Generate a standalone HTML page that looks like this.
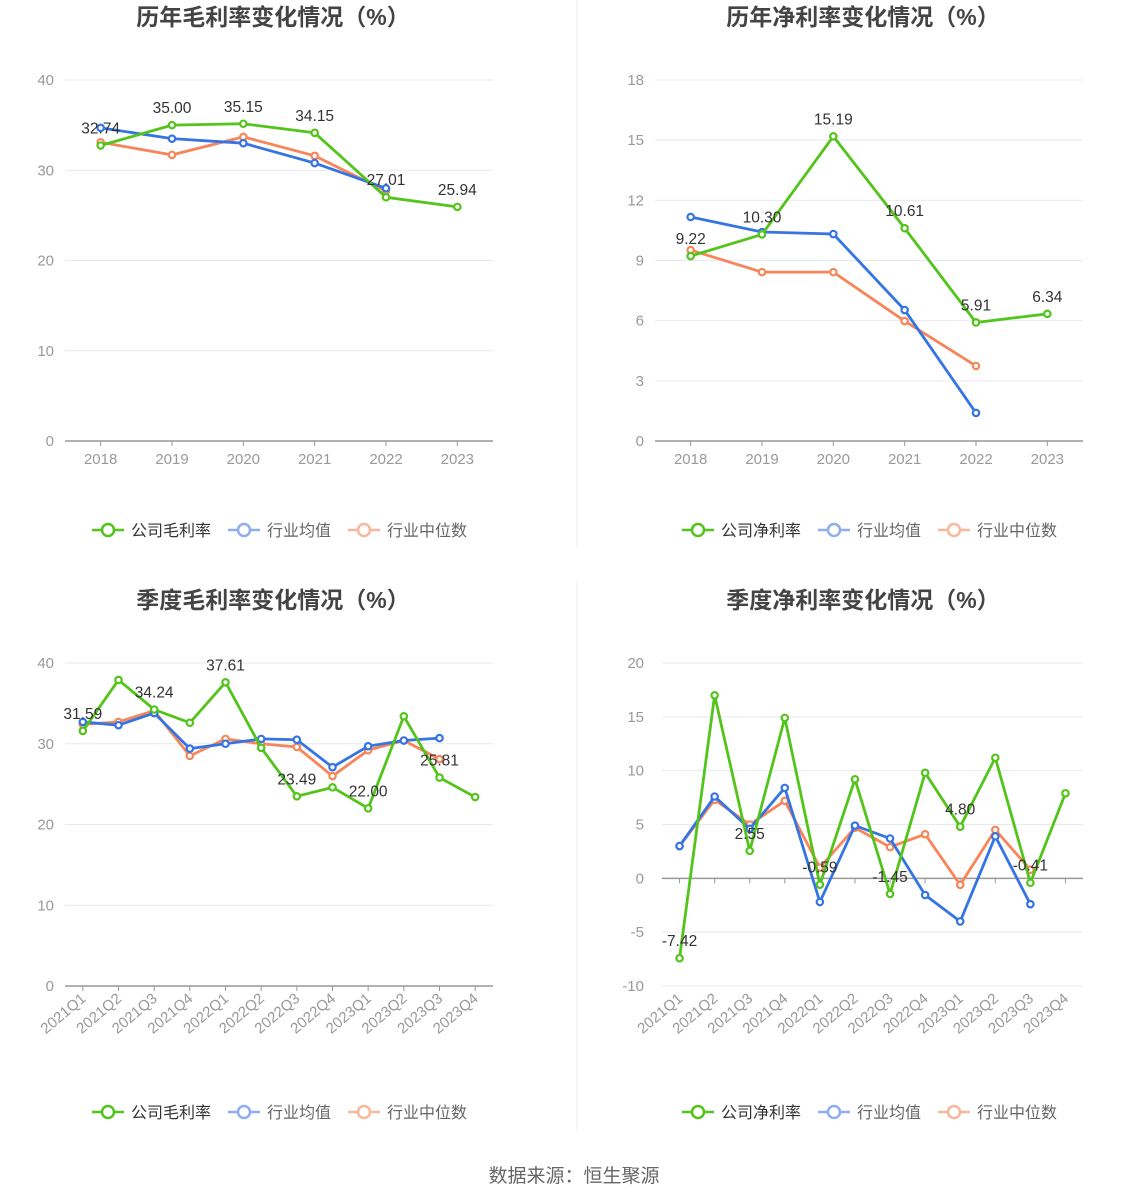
<!DOCTYPE html>
<html><head><meta charset="utf-8">
<style>
body{margin:0;background:#fff;font-family:"Liberation Sans","Noto Sans CJK SC",sans-serif;}
#wrap{position:relative;width:1148px;height:1202px;overflow:hidden;}
svg{position:absolute;left:0;top:0;}
</style></head>
<body>
<div id="wrap">
<svg id="svg" width="1148" height="1202"></svg>
</div>
<script>
// ---- Chart 1: annual gross margin ----
const yearCats = ["2018","2019","2020","2021","2022","2023"];
const grossCompany = [32.74,35.00,35.15,34.15,27.01,25.94];
const grossAvg = [34.7,33.5,33.0,30.8,28.0,null];
const grossMedian = [33.1,31.7,33.7,31.6,27.7,null];
const grossTicks = [0,10,20,30,40];
// ---- Chart 2: annual net margin ----
const netCompany = [9.22,10.30,15.19,10.61,5.91,6.34];
const netAvg = [11.17,10.42,10.32,6.53,1.40,null];
const netMedian = [9.52,8.42,8.42,5.98,3.74,null];
const netTicks = [0,3,6,9,12,15,18];
// ---- Chart 3: quarterly gross margin ----
const quarterCats = ["2021Q1","2021Q2","2021Q3","2021Q4","2022Q1","2022Q2","2022Q3","2022Q4","2023Q1","2023Q2","2023Q3","2023Q4"];
const qGrossCompany = [31.59,37.9,34.24,32.6,37.61,29.5,23.49,24.6,22.00,33.4,25.81,23.4];
const qGrossAvg = [32.7,32.3,33.8,29.4,30.0,30.6,30.5,27.1,29.7,30.4,30.7,null];
const qGrossMedian = [32.4,32.7,34.1,28.5,30.6,30.0,29.6,26.0,29.2,30.4,28.1,null];
const qGrossTicks = [0,10,20,30,40];
// ---- Chart 4: quarterly net margin ----
const qNetCompany = [-7.42,17.0,2.55,14.9,-0.59,9.2,-1.45,9.8,4.80,11.2,-0.41,7.9];
const qNetAvg = [3.0,7.6,4.6,8.4,-2.2,4.9,3.7,-1.55,-4.0,3.9,-2.4,null];
const qNetMedian = [3.0,7.3,5.0,7.2,1.0,4.7,2.9,4.1,-0.6,4.5,0.8,null];
const qNetTicks = [-10,-5,0,5,10,15,20];
const labelShownAnnual = [true,true,true,true,true,true];
const labelShownQuarter = [true,false,true,false,true,false,true,false,true,false,true,false];

const NS="http://www.w3.org/2000/svg";
const svg=document.getElementById('svg');
function el(tag,attrs,parent){const e=document.createElementNS(NS,tag);for(const k in attrs)e.setAttribute(k,attrs[k]);(parent||svg).appendChild(e);return e;}
const GREEN="#52c41a",BLUE="#3574e3",ORANGE="#f7855a";

function drawChart(o){
  const g=el('g',{});
  
  
  const left=o.x0+(o.leftPad||65),right=o.x0+493,top=o.y0,bot=o.y0+361*o.hScale;
  const ymin=o.ticks[0],ymax=o.ticks[o.ticks.length-1];
  const ys=v=>bot-(v-ymin)/(ymax-ymin)*(bot-top);
  const band=(right-left)/o.cats.length;
  const xs=i=>left+band*(i+0.5);
  const t=el('text',{x:o.x0+273,y:o.titleY,'text-anchor':'middle','font-size':23,'font-weight':'bold',fill:'#444'},g);
  t.textContent=o.title;
  
  
  o.ticks.forEach(v=>{
    const ln=el('line',{x1:left,x2:right,y1:ys(v),y2:ys(v),stroke:'#e6e9f3','stroke-width':1},g);
    
    
    const tx=el('text',{x:o.x0+54,y:ys(v)+5,'text-anchor':'end','font-size':15,fill:'#999'},g);
    tx.textContent=v;
    
    
  });
  const ay=ys(Math.max(0,ymin));
  const ax=el('line',{x1:left,x2:right,y1:ay,y2:ay,stroke:'#999','stroke-width':1.5},g);
  
  
  o.cats.forEach((c,i)=>{
    const tk=el('line',{x1:xs(i),x2:xs(i),y1:ay,y2:ay+5,stroke:'#999'},g);
    
    
    let tx;
    if(o.rotate){
      tx=el('text',{x:xs(i)+4,y:bot+14,'text-anchor':'end','font-size':15,fill:'#999',transform:`rotate(-40 ${xs(i)+4} ${bot+14})`},g);
    } else {
      tx=el('text',{x:xs(i),y:bot+23,'text-anchor':'middle','font-size':15,fill:'#999'},g);
    }
    tx.textContent=c;
    
    
  });
  const series=[[o.median,ORANGE,'median-series'],[o.avg,BLUE,'average-series'],[o.company,GREEN,'company-series']];
  series.forEach(([arr,col,nm])=>{
    let d='';arr.forEach((v,i)=>{if(v==null)return;d+=(d?'L':'M')+xs(i)+','+ys(v);});
    const p=el('path',{d:d,fill:'none',stroke:col,'stroke-width':2.8},g);
    
    
    arr.forEach((v,i)=>{if(v==null)return;
      const c=el('circle',{cx:xs(i),cy:ys(v),r:3.2,fill:'#fff',stroke:col,'stroke-width':2.2},g);
      
      
    });
  });
  o.company.forEach((v,i)=>{if(!o.shown[i])return;
    const tx=el('text',{x:xs(i),y:ys(v)-12,'text-anchor':'middle','font-size':15.5,fill:'#333'},g);
    tx.textContent=v.toFixed(2);
    
    
  });
  const leg=[[o.legend,GREEN,o.x0+92,'#333'],['行业均值','#8eaef0',o.x0+228,'#666'],['行业中位数','#f8b89c',o.x0+348,'#666']];
  leg.forEach(([txt,col,lx,tc])=>{
    const lg=el('g',{},g);
    
    
    el('line',{x1:lx,x2:lx+32,y1:o.legendY,y2:o.legendY,stroke:col,'stroke-width':2.5},lg);
    el('circle',{cx:lx+16,cy:o.legendY,r:6,fill:'#fff',stroke:col,'stroke-width':2.5},lg);
    const tx=el('text',{x:lx+39,y:o.legendY+6,'font-size':16,fill:tc},lg);
    tx.textContent=txt;
  });
}
drawChart({name:'annual-gross-margin-chart',x0:0,y0:80,hScale:1,titleY:25,title:'历年毛利率变化情况（%）',cats:yearCats,company:grossCompany,avg:grossAvg,median:grossMedian,ticks:grossTicks,shown:labelShownAnnual,legend:'公司毛利率',legendY:530});
drawChart({name:'annual-net-margin-chart',x0:590,y0:80,hScale:1,titleY:25,title:'历年净利率变化情况（%）',cats:yearCats,company:netCompany,avg:netAvg,median:netMedian,ticks:netTicks,shown:labelShownAnnual,legend:'公司净利率',legendY:530});
drawChart({name:'quarterly-gross-margin-chart',x0:0,y0:663,hScale:323/361,titleY:608,title:'季度毛利率变化情况（%）',cats:quarterCats,company:qGrossCompany,avg:qGrossAvg,median:qGrossMedian,ticks:qGrossTicks,shown:labelShownQuarter,legend:'公司毛利率',legendY:1112,rotate:true});
drawChart({name:'quarterly-net-margin-chart',x0:590,y0:663,hScale:323/361,titleY:608,title:'季度净利率变化情况（%）',cats:quarterCats,company:qNetCompany,avg:qNetAvg,median:qNetMedian,ticks:qNetTicks,shown:labelShownQuarter,legend:'公司净利率',legendY:1112,rotate:true,leftPad:72});
const d1=el('line',{x1:577,x2:577,y1:0,y2:548,stroke:'#eee'});


const d2=el('line',{x1:577,x2:577,y1:582,y2:1130,stroke:'#eee'});


const ft=el('text',{x:574,y:1182,'text-anchor':'middle','font-size':19,fill:'#666'});
ft.textContent='数据来源：恒生聚源';


</script>
</body></html>
